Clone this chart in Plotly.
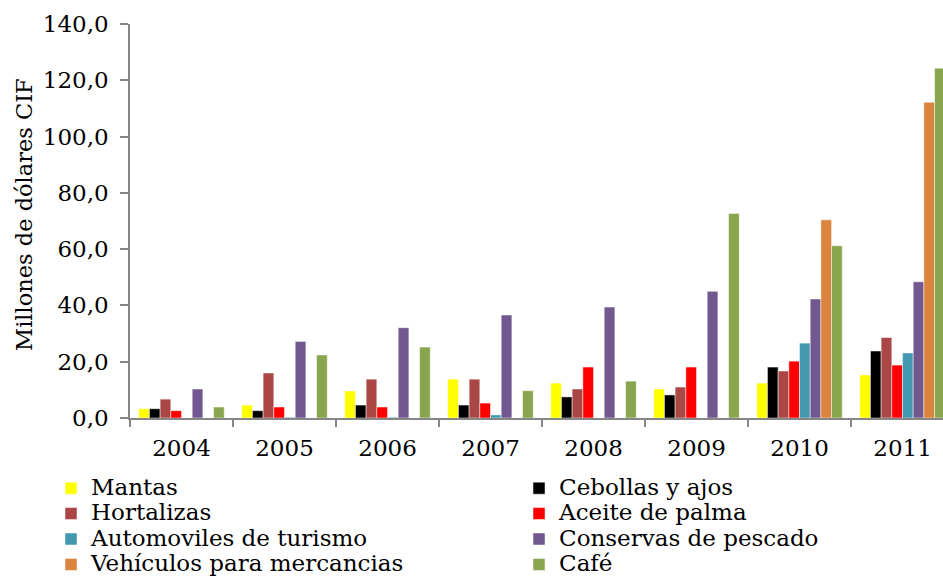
import plotly.graph_objects as go

years = ["2004", "2005", "2006", "2007", "2008", "2009", "2010", "2011"]

mantas = [3.3, 4.6, 9.6, 13.8, 12.4, 10.3, 12.4, 15.3]
cebollas = [3.3, 2.6, 4.6, 4.6, 7.5, 8.2, 18.1, 23.8]
hortalizas = [6.7, 16.0, 13.8, 13.8, 10.3, 11.0, 16.7, 28.6]
aceite = [2.6, 3.9, 3.9, 5.3, 18.1, 18.1, 20.2, 18.8]
automoviles = [0.0, 0.3, 0.3, 1.1, 0.0, 0.0, 26.6, 23.1]
conservas = [10.3, 27.2, 32.1, 36.6, 39.4, 45.0, 42.3, 48.4]
vehiculos = [0.0, 0.0, 0.0, 0.0, 0.0, 0.0, 70.4, 112.2]
cafe = [3.9, 22.4, 25.2, 9.7, 13.1, 72.7, 61.2, 124.3]

y_title = "Millones de dólares CIF"

series = [
    ("Mantas", mantas, "#FFFF00", "legend"),
    ("Cebollas y ajos", cebollas, "#000000", "legend2"),
    ("Hortalizas", hortalizas, "#AA4643", "legend"),
    ("Aceite de palma", aceite, "#FF0000", "legend2"),
    ("Automoviles de turismo", automoviles, "#4198AF", "legend"),
    ("Conservas de pescado", conservas, "#71588F", "legend2"),
    ("Vehículos para mercancias", vehiculos, "#DB843D", "legend"),
    ("Café", cafe, "#89A54E", "legend2"),
]

font_family = "DejaVu Serif"

fig = go.Figure()
for name, vals, color, leg in series:
    fig.add_trace(go.Bar(
        x=years, y=vals, legend=leg,
        name='<span style="font-size:23px">' + name + '</span>',
        marker=dict(color=color, line=dict(color="rgba(255,255,255,0.6)", width=0.8)),
    ))

legend_common = dict(
    xref="container", yref="container", xanchor="left", yanchor="top",
    orientation="v", font=dict(family=font_family, size=17.25, color="black"),
    bgcolor="rgba(0,0,0,0)", tracegroupgap=0, itemwidth=30,
)

fig.update_layout(
    width=943, height=579,
    barmode="group", bargap=0.17, bargroupgap=0,
    separators=",.",
    paper_bgcolor="white", plot_bgcolor="white",
    margin=dict(l=130, r=0, t=24, b=161, autoexpand=False),
    font=dict(family=font_family, size=23, color="black"),
    showlegend=True,
    legend=dict(x=0.0541, y=0.1875, **legend_common),
    legend2=dict(x=0.5504, y=0.1875, **legend_common),
    xaxis=dict(
        type="category", range=[-0.5, 7.393],
        showline=True, linecolor="#868686", linewidth=1.5,
        ticks="outside", tickson="boundaries", ticklen=7, tickcolor="#868686", tickwidth=1.5,
        tickfont=dict(family=font_family, size=23, color="black"),
        ticklabelstandoff=9, showgrid=False, zeroline=False, automargin=False,
    ),
    yaxis=dict(
        range=[0, 140], dtick=20, tickformat=".1f",
        showline=True, linecolor="#868686", linewidth=1.5,
        ticks="outside", ticklen=8, tickcolor="#868686", tickwidth=1.5,
        tickfont=dict(family=font_family, size=23, color="black"),
        ticklabelstandoff=7, showgrid=False, zeroline=False, automargin=False,
    ),
    annotations=[dict(
        text=y_title, textangle=-90, showarrow=False,
        xref="paper", yref="paper", x=-0.1304, y=0.518,
        xanchor="center", yanchor="middle",
        font=dict(family=font_family, size=22.5, color="black"),
    )],
)

fig.write_html(
    "out.html",
    config={"displayModeBar": False},
    post_script="document.body.style.margin='0';document.body.style.overflow='hidden';",
)
